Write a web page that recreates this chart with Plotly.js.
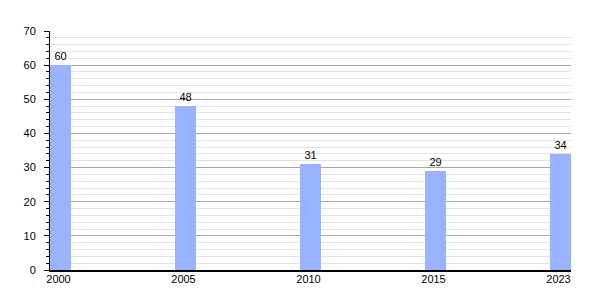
<!DOCTYPE html>
<html>
<head>
<meta charset="utf-8">
<script src="https://cdn.plot.ly/plotly-3.0.1.min.js"></script>
<style>html,body{margin:0;padding:0;background:#fff;}#chart{width:600px;height:300px;}</style>
</head>
<body>
<div id="chart"></div>
<script>
const years = ["2000", "2005", "2010", "2015", "2023"];
const values = [60, 48, 31, 29, 34];
const positions = years.map((_, i) => i);

const trace = {
  type: "bar",
  x: positions,
  y: values,
  width: 0.168,
  marker: {color: "#99b3ff", line: {width: 0}},
  text: values.map(String),
  textposition: "outside",
  textfont: {family: "Liberation Sans, Arial, sans-serif", size: 11, color: "#000"},
  cliponaxis: false,
  hoverinfo: "skip"
};

const layout = {
  width: 600, height: 300,
  margin: {l: 50, r: 29, t: 31, b: 30},
  paper_bgcolor: "#fff", plot_bgcolor: "#fff",
  showlegend: false,
  font: {family: "Liberation Sans, Arial, sans-serif", size: 11, color: "#000"},
  xaxis: {
    range: [-0.084, 4.084],
    tickvals: positions,
    ticktext: years,
    showgrid: false, zeroline: false,
    showline: true, linecolor: "#000", linewidth: 2,
    ticks: "", ticklen: 0,
    ticklabelstandoff: -2,
    ticklabelshift: -2,
    tickfont: {size: 11, color: "#000"}
  },
  yaxis: {
    range: [0, 70],
    dtick: 10,
    tick0: 0,
    showgrid: true, gridcolor: "#a6a6a6", gridwidth: 1,
    zeroline: false,
    showline: true, linecolor: "#000", linewidth: 1,
    ticks: "outside", ticklen: 5, tickcolor: "#000",
    ticklabelstandoff: 6,
    tickfont: {size: 11, color: "#000"},
    minor: {dtick: 2, showgrid: true, gridcolor: "#e3e3e3", gridwidth: 1, ticks: "outside", ticklen: 3, tickcolor: "#000"}
  },
  bargap: 0
};

Plotly.newPlot("chart", [trace], layout, {staticPlot: true, displayModeBar: false});
</script>
</body>
</html>
